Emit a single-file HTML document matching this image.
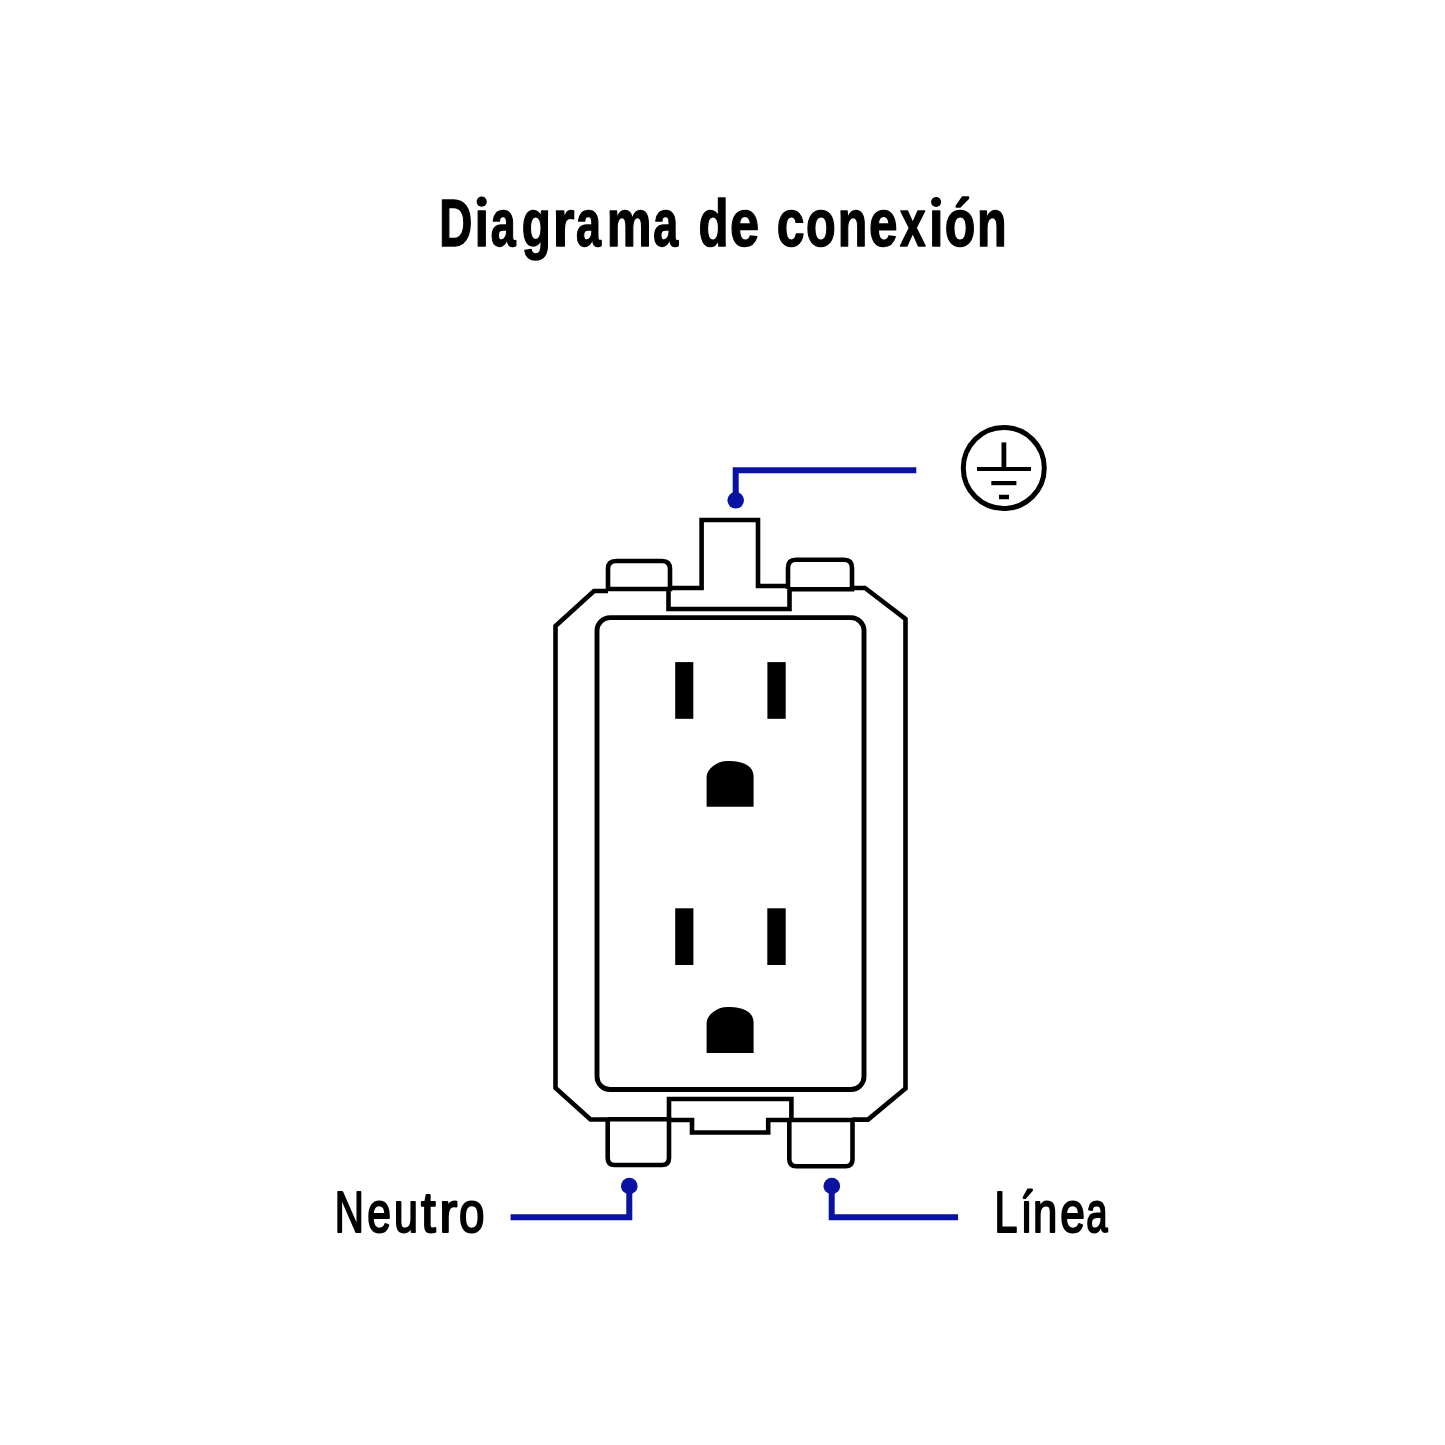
<!DOCTYPE html>
<html>
<head>
<meta charset="utf-8">
<style>
html,body{margin:0;padding:0;background:#fff;width:1445px;height:1445px;overflow:hidden;}
svg{display:block;}
text{font-family:"Liberation Sans", sans-serif;}
</style>
</head>
<body>
<svg width="1445" height="1445" viewBox="0 0 1445 1445">
<rect width="1445" height="1445" fill="#fff"/>
<!-- title -->
<g font-family="Liberation Sans, sans-serif" font-weight="bold" font-size="66.9" fill="#000" stroke="#000" stroke-width="1.5" stroke-linejoin="round" opacity="0.999">
<text transform="matrix(0.6842,0,0,1,439.15,245.90)">D</text>
<text transform="matrix(0.7772,0,0,1,474.50,245.90)">ı</text>
<text transform="matrix(0.6699,0,0,1,490.79,245.90)">a</text>
<text transform="matrix(0.7113,0,0,1,521.78,245.90)">g</text>
<text transform="matrix(0.8366,0,0,1,552.84,245.90)">r</text>
<text transform="matrix(0.6726,0,0,1,575.89,245.90)">a</text>
<text transform="matrix(0.7534,0,0,1,606.64,245.90)">m</text>
<text transform="matrix(0.6699,0,0,1,653.29,245.90)">a</text>
<text transform="matrix(0.7356,0,0,1,698.43,245.90)">d</text>
<text transform="matrix(0.7839,0,0,1,730.04,245.90)">e</text>
<text transform="matrix(0.7471,0,0,1,776.81,245.90)">c</text>
<text transform="matrix(0.7270,0,0,1,805.95,245.90)">o</text>
<text transform="matrix(0.7218,0,0,1,837.76,245.90)">n</text>
<text transform="matrix(0.7661,0,0,1,869.07,245.90)">e</text>
<text transform="matrix(0.6886,0,0,1,900.00,245.90)">x</text>
<text transform="matrix(0.7772,0,0,1,928.90,245.90)">ı</text>
<text transform="matrix(0.7485,0,0,1,944.71,245.90)">ó</text>
<text transform="matrix(0.7247,0,0,1,977.05,245.90)">n</text>
</g>
<circle cx="481.7" cy="201.7" r="5.1" fill="#000"/><circle cx="936.1" cy="202" r="5.0" fill="#000"/>
<!-- labels -->
<g font-family="Liberation Sans, sans-serif" font-weight="normal" font-size="57.4" fill="#000" stroke="#000" stroke-width="2.1" stroke-linejoin="round" opacity="0.999">
<text transform="matrix(0.7025,0,0,1,334.63,1231.60)">N</text>
<text transform="matrix(0.7439,0,0,1,367.17,1231.60)">e</text>
<text transform="matrix(0.7514,0,0,1,393.89,1231.60)">u</text>
<text transform="matrix(0.9249,0,0,1,420.97,1231.60)">t</text>
<text transform="matrix(0.9483,0,0,1,439.18,1231.60)">r</text>
<text transform="matrix(0.7979,0,0,1,459.01,1231.60)">o</text>
<text transform="matrix(0.7188,0,0,1,994.47,1232.20)">L</text>
<text transform="matrix(0.7278,0,0,1,1020.77,1232.20)">í</text>
<text transform="matrix(0.7590,0,0,1,1032.90,1232.20)">n</text>
<text transform="matrix(0.7715,0,0,1,1060.13,1232.20)">e</text>
<text transform="matrix(0.6680,0,0,1,1086.37,1232.20)">a</text>
</g>

<!-- outlet body -->
<g fill="none" stroke="#000" stroke-width="4.6" stroke-linejoin="miter" stroke-linecap="butt">
  <!-- outer left side -->
  <path d="M608,591 H594 L555.5,626 V1088 L590.5,1119.5 H608"/>
  <!-- outer right side -->
  <path d="M852,588 H865 L905.5,619 V1088.4 L868,1119.6 H852.5"/>
  <!-- top left tab -->
  <path d="M608,591 V569 Q608,561 616,561 H662 Q670,561 670,569 V589 H608"/>
  <!-- top right tab -->
  <path d="M788,589 V567.7 Q788,559.7 796,559.7 H844 Q852,559.7 852,567.7 V589.3 H788"/>
  <!-- ground tab -->
  <path d="M670,588 H701.6 V520 H758 V586 H788"/>
  <!-- top bridge -->
  <path d="M668.5,589 V609 H789.5 V589"/>
  <!-- inner plate -->
  <rect x="597" y="617.6" width="267" height="471.9" rx="13" ry="13" stroke-width="4.9"/>
  <!-- bottom left tab -->
  <path d="M607.7,1119.3 V1158 Q607.7,1165 614.7,1165 H662 Q669,1165 669,1158 V1119.3 H607.7"/>
  <!-- bottom right tab -->
  <path d="M789.3,1120 V1159.3 Q789.3,1166.3 796.3,1166.3 H845.5 Q852.5,1166.3 852.5,1159.3 V1120 H789.3"/>
  <!-- bottom bridge -->
  <path d="M669,1119.3 V1099 H791.4 V1120"/>
  <!-- bottom notch -->
  <path d="M669,1120 H692 V1132.5 H768.2 V1120 H789.3"/>
</g>

<!-- slots -->
<g fill="#000">
  <rect x="675.2" y="662.1" width="18.1" height="56.7"/>
  <rect x="767.4" y="662.1" width="18.3" height="56.7"/>
  <path d="M706.6,806.8 V776 C707.5,769 716,761 728,761 C744,761 753.6,766 753.6,777 V806.8 Z"/>
  <rect x="675.2" y="908.3" width="18.2" height="56.7"/>
  <rect x="767.3" y="908.3" width="18.4" height="56.7"/>
  <path d="M706.6,1053 V1022 C707.5,1015 716,1007 728,1007 C744,1007 753.6,1012 753.6,1023 V1053 Z"/>
</g>

<!-- ground symbol -->
<g fill="none" stroke="#000">
  <circle cx="1003.8" cy="468" r="40.5" stroke-width="5"/>
  <path d="M1003.9,442.4 V469" stroke-width="4.8"/>
  <path d="M977,469 H1031" stroke-width="4.2"/>
  <path d="M991.3,483.1 H1016.4" stroke-width="4.2"/>
  <path d="M999,497 H1009" stroke-width="4.5"/>
</g>

<!-- wires -->
<g fill="none" stroke="#0a12a2" stroke-width="6" stroke-linejoin="miter">
  <path d="M735.7,500 V470.3 H916.3"/>
  <path d="M629.3,1186 V1217.2 H510.6"/>
  <path d="M831.7,1186 V1217.2 H958.1"/>
</g>
<g fill="#0a12a2">
  <circle cx="735.7" cy="500.3" r="8.3"/>
  <circle cx="629.3" cy="1186" r="8.3"/>
  <circle cx="831.8" cy="1186" r="8.3"/>
</g>
</svg>
</body>
</html>
